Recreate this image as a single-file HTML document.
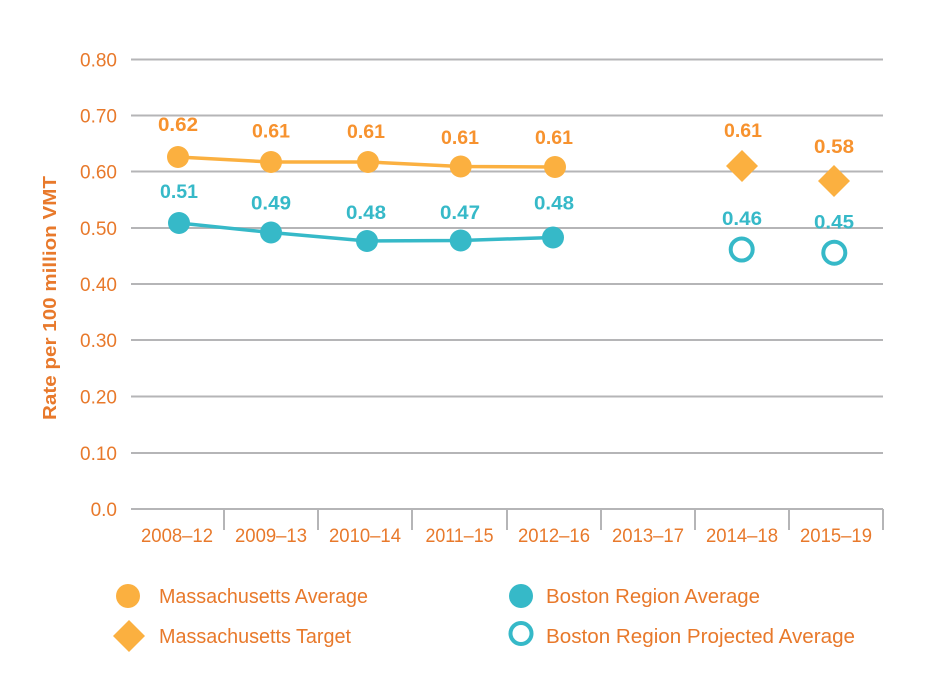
<!DOCTYPE html>
<html><head><meta charset="utf-8"><style>
html,body{margin:0;padding:0;background:#fff;}
svg{display:block;}
text{font-family:"Liberation Sans",sans-serif;}
</style></head><body>
<svg width="952" height="679" viewBox="0 0 952 679" xmlns="http://www.w3.org/2000/svg">
<g stroke="#b5b5b7" stroke-width="2" fill="none">
<line x1="131" y1="59.5" x2="883" y2="59.5"/>
<line x1="131" y1="115.5" x2="883" y2="115.5"/>
<line x1="131" y1="171.5" x2="883" y2="171.5"/>
<line x1="131" y1="228" x2="883" y2="228"/>
<line x1="131" y1="284" x2="883" y2="284"/>
<line x1="131" y1="340" x2="883" y2="340"/>
<line x1="131" y1="396.5" x2="883" y2="396.5"/>
<line x1="131" y1="453" x2="883" y2="453"/>
<line x1="131" y1="509" x2="883" y2="509"/>
<line x1="224" y1="509" x2="224" y2="530"/>
<line x1="318" y1="509" x2="318" y2="530"/>
<line x1="412" y1="509" x2="412" y2="530"/>
<line x1="507" y1="509" x2="507" y2="530"/>
<line x1="601" y1="509" x2="601" y2="530"/>
<line x1="695" y1="509" x2="695" y2="530"/>
<line x1="789" y1="509" x2="789" y2="530"/>
<line x1="883" y1="509" x2="883" y2="530"/>
</g>
<g fill="#e8792b" font-size="19" text-anchor="end">
<text x="117" y="66.5">0.80</text>
<text x="117" y="122.5">0.70</text>
<text x="117" y="178.5">0.60</text>
<text x="117" y="235">0.50</text>
<text x="117" y="291">0.40</text>
<text x="117" y="347">0.30</text>
<text x="117" y="403.5">0.20</text>
<text x="117" y="460">0.10</text>
<text x="117" y="516">0.0</text>
</g>
<text transform="translate(56,298) rotate(-90)" fill="#e8792b" font-size="18" font-weight="bold" text-anchor="middle" textLength="244" lengthAdjust="spacingAndGlyphs">Rate per 100 million VMT</text>
<g fill="#e8792b" font-size="19" text-anchor="middle">
<text x="177" y="542" textLength="72" lengthAdjust="spacingAndGlyphs">2008–12</text>
<text x="271" y="542" textLength="72" lengthAdjust="spacingAndGlyphs">2009–13</text>
<text x="365" y="542" textLength="72" lengthAdjust="spacingAndGlyphs">2010–14</text>
<text x="459.5" y="542" textLength="68" lengthAdjust="spacingAndGlyphs">2011–15</text>
<text x="554" y="542" textLength="72" lengthAdjust="spacingAndGlyphs">2012–16</text>
<text x="648" y="542" textLength="72" lengthAdjust="spacingAndGlyphs">2013–17</text>
<text x="742" y="542" textLength="72" lengthAdjust="spacingAndGlyphs">2014–18</text>
<text x="836" y="542" textLength="72" lengthAdjust="spacingAndGlyphs">2015–19</text>
</g>
<polyline points="178,157 271,162 368,162 460.7,166.5 555,167" fill="none" stroke="#fbb040" stroke-width="3.5"/>
<g fill="#fbb040">
<circle cx="178" cy="157" r="11"/>
<circle cx="271" cy="162" r="11"/>
<circle cx="368" cy="162" r="11"/>
<circle cx="460.7" cy="166.5" r="11"/>
<circle cx="555" cy="167" r="11"/>
<polygon points="742,150 758,166 742,182 726,166"/>
<polygon points="834,165 850,181 834,197 818,181"/>
</g>
<polyline points="179,223 271,232.5 367,241 460.7,240.5 553,237.5" fill="none" stroke="#36b9c8" stroke-width="3.5"/>
<g fill="#36b9c8">
<circle cx="179" cy="223" r="11"/>
<circle cx="271" cy="232.5" r="11"/>
<circle cx="367" cy="241" r="11"/>
<circle cx="460.7" cy="240.5" r="11"/>
<circle cx="553" cy="237.5" r="11"/>
</g>
<g fill="none" stroke="#36b9c8" stroke-width="4">
<circle cx="741.7" cy="249.5" r="11"/>
<circle cx="834.3" cy="252.7" r="11"/>
</g>
<g fill="#f7922e" font-size="19" font-weight="bold" text-anchor="middle">
<text x="178" y="131" textLength="40" lengthAdjust="spacingAndGlyphs">0.62</text>
<text x="271" y="137.5" textLength="38" lengthAdjust="spacingAndGlyphs">0.61</text>
<text x="366" y="138" textLength="38" lengthAdjust="spacingAndGlyphs">0.61</text>
<text x="460" y="144" textLength="38" lengthAdjust="spacingAndGlyphs">0.61</text>
<text x="554" y="144" textLength="38" lengthAdjust="spacingAndGlyphs">0.61</text>
<text x="743" y="137" textLength="38" lengthAdjust="spacingAndGlyphs">0.61</text>
<text x="834" y="153" textLength="40" lengthAdjust="spacingAndGlyphs">0.58</text>
</g>
<g fill="#36b9c8" font-size="19" font-weight="bold" text-anchor="middle">
<text x="179" y="198" textLength="38" lengthAdjust="spacingAndGlyphs">0.51</text>
<text x="271" y="209.5" textLength="40" lengthAdjust="spacingAndGlyphs">0.49</text>
<text x="366" y="219" textLength="40" lengthAdjust="spacingAndGlyphs">0.48</text>
<text x="460" y="219" textLength="40" lengthAdjust="spacingAndGlyphs">0.47</text>
<text x="554" y="209.5" textLength="40" lengthAdjust="spacingAndGlyphs">0.48</text>
<text x="742" y="225" textLength="40" lengthAdjust="spacingAndGlyphs">0.46</text>
<text x="834" y="228.5" textLength="40" lengthAdjust="spacingAndGlyphs">0.45</text>
</g>
<circle cx="128" cy="596" r="12" fill="#fbb040"/>
<polygon points="129,620 145,636 129,652 113,636" fill="#fbb040"/>
<circle cx="521" cy="596" r="12" fill="#36b9c8"/>
<circle cx="521" cy="633.5" r="10.5" fill="none" stroke="#36b9c8" stroke-width="4"/>
<g fill="#e8792b" font-size="20">
<text x="159" y="603" textLength="209" lengthAdjust="spacingAndGlyphs">Massachusetts Average</text>
<text x="159" y="643" textLength="192" lengthAdjust="spacingAndGlyphs">Massachusetts Target</text>
<text x="546" y="603" textLength="214" lengthAdjust="spacingAndGlyphs">Boston Region Average</text>
<text x="546" y="643" textLength="309" lengthAdjust="spacingAndGlyphs">Boston Region Projected Average</text>
</g>
</svg>
</body></html>
